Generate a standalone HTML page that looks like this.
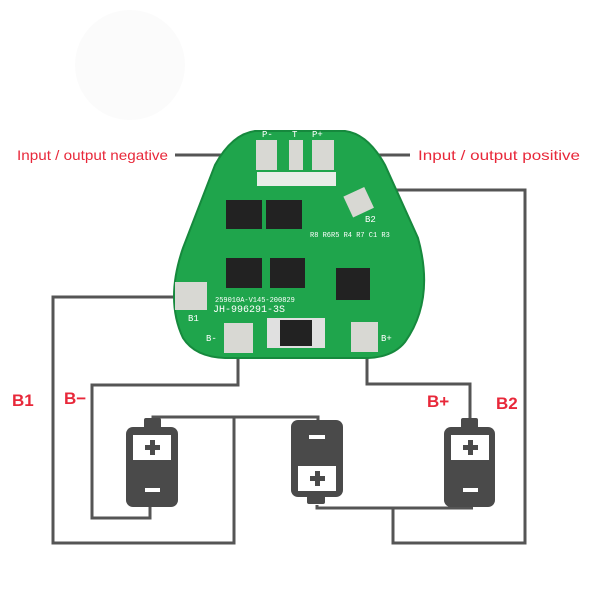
<!DOCTYPE html>
<html><head><meta charset="utf-8"><style>
html,body{margin:0;padding:0;background:#fff;width:600px;height:600px;overflow:hidden}
</style></head><body>
<svg width="600" height="600" viewBox="0 0 600 600" xmlns="http://www.w3.org/2000/svg">
<circle cx="130" cy="65" r="55" fill="#fbfbfb"/>
<g fill="none" stroke="#555" stroke-width="3">
<line x1="175" y1="155" x2="262" y2="155"/>
<line x1="325" y1="155" x2="410" y2="155"/>
<polyline points="190,297 53,297 53,543 234,543 234,418"/>
<polyline points="153,419 153,417 318,417 318,422"/>
<polyline points="238,340 238,385 92,385 92,518 150,518 150,506"/>
<polyline points="367,340 367,384 470,384 470,420"/>
<polyline points="317,505 317,508 473,508"/>
<polyline points="393,508 393,543 525,543 525,190 358,190"/>
</g>
<path d="M255,131 L345,131 Q368,134 385,165 L418,238 Q435,300 405,342 Q393,357 368,358 L225,358 Q195,357 183,338 Q165,300 183,248 L215,165 Q232,134 255,131 Z" fill="#1fa54c" stroke="#16893d" stroke-width="2"/>
<g fill="#d8d8d3">
<rect x="256" y="140" width="21" height="30"/>
<rect x="289" y="140" width="14" height="30"/>
<rect x="312" y="140" width="22" height="30"/>
<rect x="257" y="172" width="79" height="14" fill="#e8ede8"/>
<rect x="347" y="191" width="23" height="23" transform="rotate(-25 358 202)"/>
<rect x="175" y="282" width="32" height="28"/>
<rect x="224" y="323" width="29" height="30"/>
<rect x="351" y="322" width="27" height="30"/>
<rect x="267" y="318" width="58" height="30" fill="#e0e0e0"/>
</g>
<g fill="#222">
<rect x="226" y="200" width="36" height="29"/>
<rect x="266" y="200" width="36" height="29"/>
<rect x="226" y="258" width="36" height="30"/>
<rect x="270" y="258" width="35" height="30"/>
<rect x="336" y="268" width="34" height="32"/>
<rect x="280" y="320" width="32" height="26"/>
</g>
<g fill="#fff" font-family="Liberation Mono, monospace" font-size="9">
<text x="262" y="137">P-</text><text x="292" y="137">T</text><text x="312" y="137">P+</text>
<text x="365" y="222">B2</text><text x="188" y="321">B1</text><text x="206" y="341">B-</text><text x="381" y="341">B+</text>
<text x="213" y="312" font-size="10">JH-996291-3S</text>
<text x="215" y="302" font-size="7">259010A-V145-200829</text>
<text x="310" y="237" font-size="7">R8 R6R5 R4 R7 C1 R3</text>
</g>
<g fill="#4a4a4a">
<rect x="144" y="418" width="17" height="12" rx="2"/>
<rect x="126" y="427" width="52" height="80" rx="7"/>
<rect x="291" y="420" width="52" height="77" rx="7"/>
<rect x="307" y="492" width="18" height="12" rx="2"/>
<rect x="461" y="418" width="17" height="12" rx="2"/>
<rect x="444" y="427" width="51" height="80" rx="7"/>
</g>
<g fill="#fff">
<rect x="133" y="435" width="38" height="25"/>
<rect x="298" y="466" width="38" height="25"/>
<rect x="451" y="435" width="38" height="25"/>
<rect x="145" y="488" width="15" height="4"/>
<rect x="309" y="435" width="16" height="4"/>
<rect x="463" y="488" width="15" height="4"/>
</g>
<g fill="#4a4a4a">
<rect x="145" y="445" width="15" height="5"/><rect x="150" y="440" width="5" height="15"/>
<rect x="310" y="476" width="15" height="5"/><rect x="315" y="471" width="5" height="15"/>
<rect x="463" y="445" width="15" height="5"/><rect x="468" y="440" width="5" height="15"/>
</g>
<g fill="#e8283a" font-family="Liberation Sans, sans-serif">
<text x="17" y="160" font-size="14" textLength="151" lengthAdjust="spacingAndGlyphs">Input / output negative</text>
<text x="418" y="160" font-size="14" textLength="162" lengthAdjust="spacingAndGlyphs">Input / output positive</text>
<g font-weight="bold" font-size="17">
<text x="12" y="406">B1</text>
<text x="64" y="404">B−</text>
<text x="427" y="407">B+</text>
<text x="496" y="409">B2</text>
</g>
</g>
</svg>
</body></html>
